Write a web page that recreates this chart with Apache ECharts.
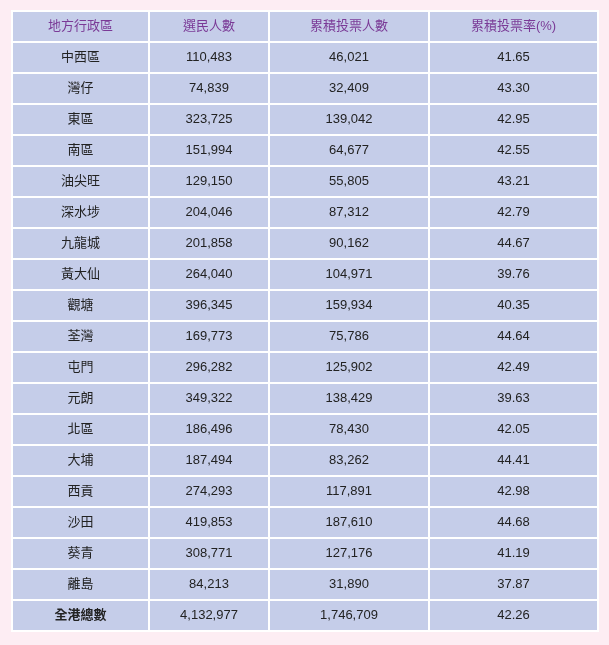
<!DOCTYPE html><html><head><meta charset="utf-8">
<script src="https://cdn.jsdelivr.net/npm/echarts@6/dist/echarts.min.js"></script>
<style>html,body{margin:0;background:#fdedf3}#c{width:609px;height:645px}</style></head><body><div id="c"></div>
<script>
const headers = ['地方行政區','選民人數','累積投票人數','累積投票率(%)'];
const districts = ['中西區','灣仔','東區','南區','油尖旺','深水埗','九龍城','黃大仙','觀塘','荃灣','屯門','元朗','北區','大埔','西貢','沙田','葵青','離島','全港總數'];
const voters = [110483,74839,323725,151994,129150,204046,201858,264040,396345,169773,296282,349322,186496,187494,274293,419853,308771,84213,4132977];
const turnout = [46021,32409,139042,64677,55805,87312,90162,104971,159934,75786,125902,138429,78430,83262,117891,187610,127176,31890,1746709];
const rate = [41.65,43.30,42.95,42.55,43.21,42.79,44.67,39.76,40.35,44.64,42.49,39.63,42.05,44.41,42.98,44.68,41.19,37.87,42.26];

const colEdges = [12,149,269,429,598];
const top0 = 11, rowH = 31;
const fmt = n => n.toLocaleString('en-US');
const cells = [];
headers.forEach((h,c)=>cells.push([c,0,h,'h']));
districts.forEach((d,i)=>{
  const last = i===districts.length-1;
  cells.push([0,i+1,d,last?'b':'n'],[1,i+1,fmt(voters[i]),'n'],[2,i+1,fmt(turnout[i]),'n'],[3,i+1,rate[i].toFixed(2),'n']);
});
const chart = echarts.init(document.getElementById('c'));
chart.setOption({
  animation:false,
  grid:{left:0,right:0,top:0,bottom:0},
  xAxis:{type:'value',min:0,max:609,show:false},
  yAxis:{type:'value',min:0,max:645,inverse:true,show:false},
  series:[{type:'custom',data:cells,
    renderItem:(p,api)=>{
      const c=api.value(0), r=api.value(1), d=cells[p.dataIndex];
      const p0=api.coord([colEdges[c], top0+r*rowH]);
      const p1=api.coord([colEdges[c+1], top0+(r+1)*rowH]);
      return {type:'group',children:[
        {type:'rect',shape:{x:p0[0],y:p0[1],width:p1[0]-p0[0],height:p1[1]-p0[1]},
          style:{fill:'#c5cde9',stroke:'#ffffff',lineWidth:2}},
        {type:'text',style:{text:d[2],x:(p0[0]+p1[0])/2,y:(p0[1]+p1[1])/2,align:'center',verticalAlign:'middle',
          fill:d[3]==='h'?'#7a3a96':'#222',fontSize:13,fontWeight:d[3]==='b'?'bold':'normal',
          fontFamily:'Arial, "Noto Sans CJK TC", sans-serif'}}
      ]};
    }}]
});
</script></body></html>
